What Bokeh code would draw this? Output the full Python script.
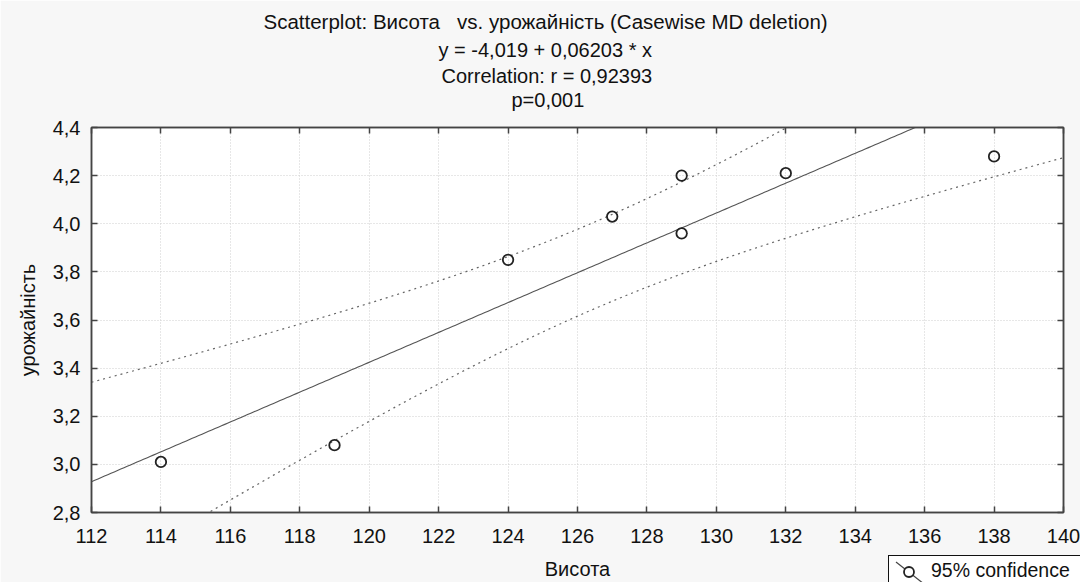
import numpy as np
from bokeh.plotting import figure
from bokeh.layouts import column
from bokeh.models import (Range1d, FixedTicker, CustomJSTickFormatter, LinearAxis,
                          Title, Div)
from bokeh.embed import file_html
from bokeh.resources import INLINE

# ---- data ----
height_x = [114, 119, 124, 127, 129, 129, 132, 138]
yield_y = [3.01, 3.08, 3.85, 4.03, 4.20, 3.96, 4.21, 4.28]
x_ticks = [112, 114, 116, 118, 120, 122, 124, 126, 128, 130, 132, 134, 136, 138, 140]
y_ticks = [2.8, 3.0, 3.2, 3.4, 3.6, 3.8, 4.0, 4.2, 4.4]
title_lines = [
    "Scatterplot: Висота \u00a0 vs. урожайність (Casewise MD deletion)",
    "y = -4,019 + 0,06203 * x",
    "Correlation: r = 0,92393",
    "p=0,001",
]
x_label = "Висота"
y_label = "урожайність"
legend_label = "95% confidence"

# ---- regression fit and 95% confidence band computed from the points ----
x = np.array(height_x, dtype=float)
y = np.array(yield_y, dtype=float)
b, a = np.polyfit(x, y, 1)
n = len(x)
resid = y - (a + b * x)
s = np.sqrt((resid ** 2).sum() / (n - 2))
t_crit = 2.446912  # t(0.975, df=6)
xs = np.linspace(x_ticks[0], x_ticks[-1], 300)
fit = a + b * xs
se = s * np.sqrt(1.0 / n + (xs - x.mean()) ** 2 / ((x - x.mean()) ** 2).sum())
upper = fit + t_crit * se
lower = fit - t_crit * se

FONT = "Liberation Sans"
TXT = "#111111"
AX = "#444444"

p = figure(width=1080, height=582, output_backend="svg", toolbar_location=None, title=None,
           x_range=Range1d(x_ticks[0], x_ticks[-1]), y_range=Range1d(y_ticks[0], y_ticks[-1]),
           min_border_left=91, min_border_right=17, min_border_top=127, min_border_bottom=69,
           background_fill_color="white", border_fill_color="#f7f7f7",
           outline_line_color=AX, outline_line_width=1.5)

xfmt = CustomJSTickFormatter(code="return tick.toFixed(0);")
yfmt = CustomJSTickFormatter(code="return tick.toFixed(1).replace('.', ',');")

for ax in (p.xaxis[0], p.yaxis[0]):
    ax.major_tick_in = 6
    ax.major_tick_out = 0
    ax.minor_tick_line_color = None
    ax.axis_line_color = AX
    ax.axis_line_width = 1.5
    ax.major_tick_line_color = AX
    ax.major_tick_line_width = 1.5
    ax.major_label_text_font = FONT
    ax.major_label_text_font_size = "20px"
    ax.major_label_text_color = TXT
    ax.axis_label_text_font = FONT
    ax.axis_label_text_font_size = "20px"
    ax.axis_label_text_font_style = "normal"
    ax.axis_label_text_color = TXT

p.xaxis[0].ticker = FixedTicker(ticks=x_ticks)
p.xaxis[0].formatter = xfmt
p.xaxis[0].axis_label = x_label
p.xaxis[0].major_label_standoff = 16
p.xaxis[0].axis_label_standoff = 12
p.yaxis[0].ticker = FixedTicker(ticks=y_ticks)
p.yaxis[0].formatter = yfmt
p.yaxis[0].axis_label = y_label
p.yaxis[0].major_label_standoff = 11
p.yaxis[0].axis_label_standoff = 11


def blank_axis(ticks):
    return LinearAxis(ticker=FixedTicker(ticks=ticks),
                      formatter=CustomJSTickFormatter(code="return '';"),
                      major_tick_in=6, major_tick_out=0, minor_tick_line_color=None,
                      major_label_standoff=0,
                      axis_line_color=AX, axis_line_width=1.5, major_tick_line_color=AX,
                      major_tick_line_width=1.5)


p.add_layout(blank_axis(x_ticks), "above")
p.add_layout(blank_axis(y_ticks), "right")

p.xgrid.ticker = FixedTicker(ticks=x_ticks)
p.ygrid.ticker = FixedTicker(ticks=y_ticks)
p.grid.grid_line_color = "#cfcfcf"
p.grid.grid_line_dash = "1 2"
p.grid.grid_line_width = 1

p.line(xs, fit, line_color="#555555", line_width=1.1)
p.line(xs, upper, line_color="#666666", line_width=1.2, line_dash="2 4")
p.line(xs, lower, line_color="#666666", line_width=1.2, line_dash="2 4")
p.scatter(height_x, yield_y, marker="circle", size=10.5, fill_color=None,
          line_color="#222222", line_width=1.8)

# title lines stacked from the frame upwards (spacer first, then last line ... first line)
p.add_layout(Title(text="\u00a0", text_font=FONT, text_font_size="12px", standoff=0,
                   vertical_align="middle"), "above")
offsets = [172, 347, 350, 420]
standoffs = [3, 4, 0, 0]
for i in [3, 2, 1, 0]:
    p.add_layout(Title(text=title_lines[i], align="left", offset=offsets[i],
                       vertical_align="middle", standoff=standoffs[i],
                       text_font=FONT, text_font_size="20.5px" if i == 0 else "20px",
                       text_font_style="normal", text_color=TXT), "above")

# legend box (partly outside the window, as in the reference)
legend_html = (
    '<div style="box-sizing:border-box;width:192px;height:27px;background:#ffffff;'
    'border-top:1.5px solid #111;border-left:1.5px solid #111;'
    'display:flex;align-items:flex-start;padding:2px 0 0 5px;white-space:nowrap;'
    "font-family:'Liberation Sans';font-size:19.5px;line-height:24px;color:#111;\">"
    '<svg width="32" height="24" style="flex:none;overflow:visible">'
    '<line x1="2" y1="4" x2="30" y2="26" stroke="#444" stroke-width="1.2"/>'
    '<circle cx="15" cy="14" r="5" fill="#ffffff" stroke="#222" stroke-width="1.8"/>'
    '</svg>'
    f'<span style="margin-left:5px">{legend_label}</span></div>'
)
legend_div = Div(text=legend_html, width=192, height=27, margin=0,
                 styles={"position": "absolute", "left": "888px", "top": "555px",
                         "overflow": "hidden", "z-index": "10"})

layout = column(p, legend_div, spacing=0)
open("out.html", "w").write(file_html(layout, INLINE))
